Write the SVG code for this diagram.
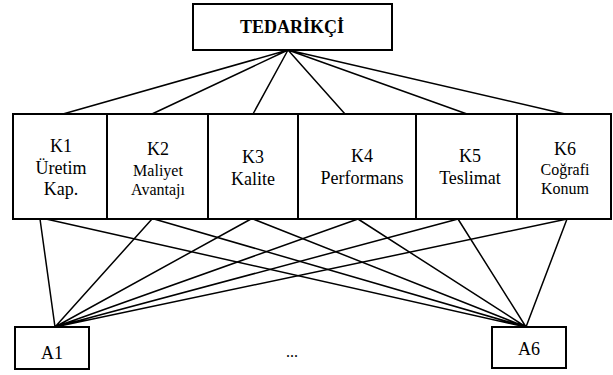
<svg xmlns="http://www.w3.org/2000/svg" width="613" height="375" viewBox="0 0 613 375">
<style>
.box{fill:#fff;stroke:#000;stroke-width:2}
.ln{stroke:#000;stroke-width:1.5;fill:none}
text{font-family:'Liberation Serif','Times New Roman',serif;fill:#000;text-anchor:middle}
.w{font-size:18px}
.s{font-size:16px}
.h{font-size:18px;font-weight:bold}
</style>
<rect width="613" height="375" fill="#fff"/>
<g id="connectors">
<path class="ln" d="M288 50L63 114M288 50L152 114M288 50L253 114M288 50L345 114M288 50L467 114M288 50L565 114"/>
<path class="ln" d="M40 219L55 327M152 219L55 327M251 219L55 327M358 219L55 327M458 219L55 327M567 219L55 327"/>
<path class="ln" d="M46 219L526 327M154 219L526 327M253 219L526 327M358 219L526 327M458 219L526 327M567 219L526 327"/>
</g>
<g id="tedarikci">
<rect class="box" x="193" y="4" width="199" height="46"/>
<text class="h" x="292" y="33">TEDARİKÇİ</text>
</g>
<g id="k1">
<rect class="box" x="13" y="114" width="94" height="105"/>
<text class="w" x="61" y="152">K1</text>
<text class="w" x="61" y="174">Üretim</text>
<text class="w" x="61" y="195">Kap.</text>
</g>
<g id="k2">
<rect class="box" x="107" y="114" width="101" height="105"/>
<text class="w" x="158" y="155">K2</text>
<text class="s" x="158" y="176">Maliyet</text>
<text class="s" x="158" y="195">Avantajı</text>
</g>
<g id="k3">
<rect class="box" x="208" y="114" width="90" height="105"/>
<text class="w" x="253" y="163">K3</text>
<text class="w" x="253" y="185">Kalite</text>
</g>
<g id="k4">
<rect class="box" x="298" y="114" width="118" height="105"/>
<text class="w" x="362" y="162">K4</text>
<text class="w" x="362" y="184">Performans</text>
</g>
<g id="k5">
<rect class="box" x="416" y="114" width="101" height="105"/>
<text class="w" x="470" y="162">K5</text>
<text class="w" x="470" y="184">Teslimat</text>
</g>
<g id="k6">
<rect class="box" x="517" y="114" width="94" height="105"/>
<text class="w" x="565" y="155">K6</text>
<text class="s" x="565" y="175">Coğrafi</text>
<text class="s" x="565" y="194">Konum</text>
</g>
<g id="a1">
<rect class="box" x="15" y="327" width="74" height="42"/>
<text class="w" x="52" y="359">A1</text>
</g>
<g id="dots">
<text class="s" x="292" y="357">...</text>
</g>
<g id="a6">
<rect class="box" x="492" y="327" width="74" height="41"/>
<text class="w" x="529" y="355">A6</text>
</g>
</svg>
